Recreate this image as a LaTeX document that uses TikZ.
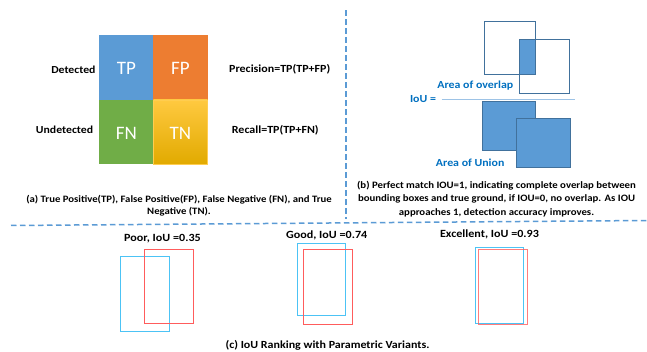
\documentclass[tikz,border=0pt]{standalone}
\usepackage{fontspec}
\setmainfont{Carlito}
\newfontfamily\widefont[FakeStretch=1.1]{Carlito}
\begin{document}
\begin{tikzpicture}[x=1pt,y=-1pt,
  lbl/.style={font=\widefont\bfseries\fontsize{10.7}{12}\selectfont, inner sep=0pt},
  formula/.style={font=\widefont\bfseries\fontsize{10.9}{12}\selectfont, inner sep=0pt},
  ranklbl/.style={font=\widefont\bfseries\fontsize{11}{12}\selectfont, inner sep=0pt},
  capa/.style={font=\widefont\bfseries\fontsize{9.75}{12.7}\selectfont, inner sep=0pt, align=center},
  captb/.style={font=\widefont\bfseries\fontsize{9.8}{13.6}\selectfont, inner sep=0pt, align=center},
  captc/.style={font=\widefont\bfseries\fontsize{10.9}{12}\selectfont, inner sep=0pt, align=center},
  cell/.style={font=\fontsize{19}{20}\selectfont, text=white, inner sep=0pt},
  sep/.style={draw=dashblue, line width=1.5pt, dash pattern=on 5.5pt off 3.5pt},
  outl/.style={draw=boxblue, line width=0.9pt},
  filled/.style={fill=fillblue, draw=boxblue, line width=0.6pt},
  bluebox/.style={draw=skyb, line width=1.1pt},
  redbox/.style={draw=redb, line width=1.1pt},
  bluetext/.style={font=\widefont\bfseries\fontsize{10.8}{12}\selectfont, text=txtblue, inner sep=0pt}]
\definecolor{tpc}{HTML}{5B9BD5}
\definecolor{fpc}{HTML}{ED7D31}
\definecolor{fnc}{HTML}{70AD47}
\definecolor{tntop}{HTML}{FFC940}
\definecolor{tnmid}{HTML}{FFC000}
\definecolor{tnbot}{HTML}{E1AA00}
\definecolor{tnborder}{HTML}{FFCD50}
\definecolor{dashblue}{HTML}{5B9BD5}
\definecolor{boxblue}{HTML}{41719C}
\definecolor{fillblue}{HTML}{5B9BD5}
\definecolor{txtblue}{HTML}{0070C0}
\definecolor{fracc}{HTML}{9DC3E6}
\definecolor{skyb}{HTML}{4CC3F5}
\definecolor{redb}{HTML}{FF5C5C}
\useasboundingbox (0,0) rectangle (647,352);
\fill[white] (0,0) rectangle (647,352);

% (a) confusion matrix
\fill[tpc] (99.3,35) rectangle (153.3,100);
\fill[fpc] (153.3,35) rectangle (207.7,100);
\fill[fnc] (99.3,100) rectangle (153.3,164.5);
\shade[top color=tntop, middle color=tnmid, bottom color=tnbot] (153.3,100) rectangle (207.7,164.5);
\draw[tnborder, line width=0.6pt] (153.3,100) rectangle (207.7,164.5);
\node[cell] (tp) at (126.3,68) {TP};
\node[cell] (fp) at (180.5,68) {FP};
\node[cell] (fn) at (126.3,133) {FN};
\node[cell] (tn) at (180.5,133) {TN};
\node[lbl, anchor=east] (det) at (95.7,69.5) {Detected};
\node[lbl, anchor=east] (undet) at (93.3,130) {Undetected};
\node[formula, anchor=west] (prec) at (229,69.5) {Precision=TP(TP+FP)};
\node[formula, anchor=west] (rec) at (231.7,130) {Recall=TP(TP+FN)};
\node[capa] (capa) at (179,205.8) {(a) True Positive(TP), False Positive(FP), False Negative (FN), and True\\Negative (TN).};

% separators
\coordinate (vtop) at (346,10.5);
\coordinate (vbot) at (346,219);
\coordinate (hl) at (11,225.5);
\coordinate (hr) at (647,220.5);
\draw[sep] (vtop) -- (vbot);
\draw[sep] (hl) -- (hr);

% (b) IoU
\draw[outl] (484.3,21.7) rectangle (535.7,74.3);
\draw[outl] (519.3,39.7) rectangle (569.3,93);
\fill[fillblue] (519.3,39.7) rectangle (535.7,74.3);
\draw[boxblue, line width=0.5pt] (519.3,39.7) rectangle (535.7,74.3);
\node[bluetext] (ovl) at (475.3,86) {Area of overlap};
\node[bluetext] (iou) at (423,98.7) {IoU =};
\coordinate (fl) at (441.7,99.3);
\coordinate (fr) at (575,99.3);
\draw[fracc, line width=1pt] (fl) -- (fr);
\draw[filled] (482.7,101.7) rectangle (535.7,150.7);
\draw[filled] (516.7,118.3) rectangle (570,167.3);
\node[bluetext] (uni) at (470.2,162.7) {Area of Union};
\node[captb] (capb) at (496.5,198.8) {(b) Perfect match IOU=1, indicating complete overlap between\\bounding boxes and true ground, if IOU=0, no overlap. As IOU\\approaches 1, detection accuracy improves.};

% (c) ranking
\node[ranklbl] (poor) at (162.5,238.3) {Poor, IoU =0.35};
\draw[bluebox] (120.5,256.5) rectangle (169.5,331.5);
\draw[redbox] (144.5,249.5) rectangle (193.5,323.5);
\node[ranklbl] (good) at (326.7,235) {Good, IoU =0.74};
\draw[bluebox] (297.5,243.5) rectangle (345.5,315.5);
\draw[redbox] (303.5,249.5) rectangle (352.5,324.5);
\node[ranklbl] (exc) at (489.5,234) {Excellent, IoU =0.93};
\draw[bluebox] (475.5,247.5) rectangle (523.5,323.5);
\draw[redbox, opacity=0.8] (478.5,249.5) rectangle (527.5,324.5);
\node[captc] (capc) at (327.5,345) {(c) IoU Ranking with Parametric Variants.};
\end{tikzpicture}
\end{document}
